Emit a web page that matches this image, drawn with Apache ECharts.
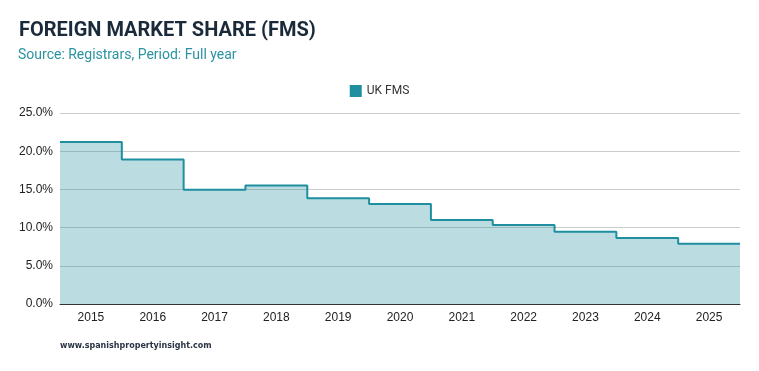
<!DOCTYPE html>
<html><head><meta charset="utf-8">
<script src="https://cdn.jsdelivr.net/npm/echarts@6/dist/echarts.min.js"></script>
<style>html,body{margin:0;padding:0;background:#fff}#c{width:759px;height:371px}</style>
</head><body><div id="c"></div>
<script>
const years = [2015,2016,2017,2018,2019,2020,2021,2022,2023,2024,2025];
const ukFms = [21.2,18.9,14.95,15.5,13.85,13.1,11.0,10.35,9.45,8.65,7.9];
const yTicks = [0,5,10,15,20,25];

const pts = years.map((y,i)=>[y, ukFms[i]]);
const data = [[years[0]-0.5, ukFms[0]], ...pts, [years[years.length-1]+0.5, ukFms[ukFms.length-1]]];

const chart = echarts.init(document.getElementById('c'));
chart.setOption({
  animation:false,
  textStyle:{fontFamily:'Roboto'},
  title:[
    {text:'FOREIGN MARKET SHARE (FMS)', left:19, top:21, padding:0, textStyle:{fontFamily:'Roboto',fontSize:20,fontWeight:'bold',color:'#1b2a3a'}},
    {text:'Source: Registrars, Period: Full year', left:18, top:48, padding:0, textStyle:{fontFamily:'Roboto',fontSize:14,fontWeight:'normal',color:'#2a93a0'}},
    {text:'www.spanishpropertyinsight.com', left:60, top:342, padding:0, textStyle:{fontFamily:'Verdana, DejaVu Sans',fontSize:8,fontWeight:'bold',color:'#2b3544'}}
  ],
  legend:{top:80, left:'center', itemWidth:12, itemHeight:12, icon:'rect', textStyle:{fontFamily:'Roboto',fontSize:12,color:'#333'}, data:['UK FMS']},
  grid:{left:60, right:19, top:113, bottom:67},
  xAxis:{type:'value', min:years[0]-0.5, max:years[years.length-1]+0.5,
    axisLine:{show:true, lineStyle:{color:'#333', width:1}},
    axisTick:{show:false},
    splitLine:{show:false},
    axisLabel:{customValues:years, formatter:v=>String(v), color:'#222', fontSize:12, margin:8, fontFamily:'Arial, Liberation Sans'}
  },
  yAxis:{type:'value', min:yTicks[0], max:yTicks[yTicks.length-1], interval:5,
    axisLine:{show:false}, axisTick:{show:false},
    splitLine:{lineStyle:{color:'#cccccc', width:1}},
    axisLabel:{formatter:v=>v.toFixed(1)+'%', color:'#222', fontSize:12, margin:7, fontFamily:'Arial, Liberation Sans'}
  },
  series:[{
    name:'UK FMS', type:'line', step:'middle', data:data, symbol:'none',
    itemStyle:{color:'#1f8fa0'},
    lineStyle:{color:'#1f8fa0', width:2},
    areaStyle:{color:'#1f8fa0', opacity:0.3}
  }]
});
</script></body></html>
